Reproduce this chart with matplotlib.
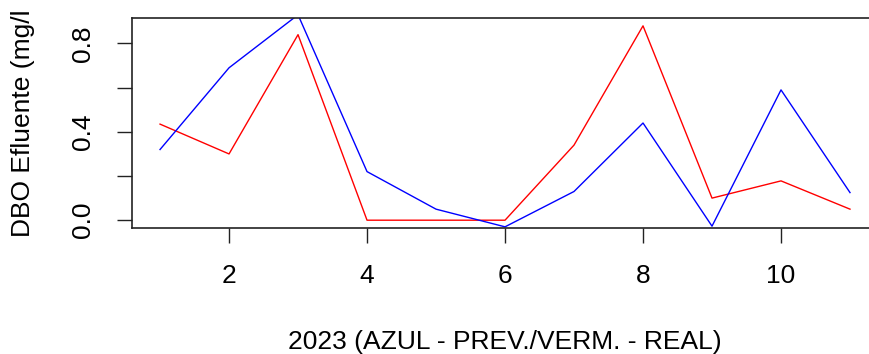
import matplotlib
matplotlib.use("Agg")
import matplotlib.pyplot as plt
from matplotlib.transforms import Bbox

plt.rcParams["font.family"] = ["Liberation Sans", "DejaVu Sans"]

# -----------------------------
# Data
# -----------------------------
months = [1, 2, 3, 4, 5, 6, 7, 8, 9, 10, 11]
dbo_prev = [0.32, 0.69, 0.93, 0.22, 0.05, -0.03, 0.13, 0.44, -0.027, 0.59, 0.125]  # azul
dbo_real = [0.435, 0.30, 0.84, 0.0, 0.0, 0.0, 0.34, 0.88, 0.10, 0.178, 0.05]      # vermelho

xticks = [2, 4, 6, 8, 10]
yticks = [0.0, 0.2, 0.4, 0.6, 0.8]
ytick_labels = ["0.0", "", "0.4", "", "0.8"]

# -----------------------------
# Plot (R base-graphics look)
# -----------------------------
W, H = 869, 354
fig = plt.figure(figsize=(W / 100, H / 100), dpi=100)
ax = fig.add_axes([0.1524, 0.356, 0.8575, 0.593])

ax.plot(months, dbo_real, color="red", lw=1.0)
ax.plot(months, dbo_prev, color="blue", lw=1.0)

# R pads the range by 4%, taken from the first (red) series
lo, hi = min(dbo_real), max(dbo_real)
pad = 0.04 * (hi - lo)
ax.set_ylim(lo - pad, hi + pad)
xpad = 0.04 * (months[-1] - months[0])
ax.set_xlim(months[0] - xpad, months[-1] + xpad)

ax.set_xticks(xticks)
ax.set_xticklabels([str(t) for t in xticks])
ax.set_yticks(yticks)
ax.set_yticklabels(ytick_labels, rotation=90, va="center")

ax.tick_params(axis="both", direction="out", length=11, width=1.0,
               color="#222222", labelsize=19)
ax.tick_params(axis="x", pad=15)
ax.tick_params(axis="y", pad=16)
for s in ax.spines.values():
    s.set_linewidth(1.2)
    s.set_color("#222222")

fig.text(0.5812, 0.034, "2023 (AZUL - PREV./VERM. - REAL)",
         ha="center", va="center", fontsize=19)

# y label runs off the top of the picture in the original
ylab = fig.text(0.027, (H - 237) / H, "DBO Efluente (mg/l)", rotation=90,
                ha="center", va="bottom", fontsize=19)
ylab.set_clip_box(Bbox([[0, 0], [W, H - 12]]))
ylab.set_clip_on(True)

fig.savefig("out.png", dpi=100)
